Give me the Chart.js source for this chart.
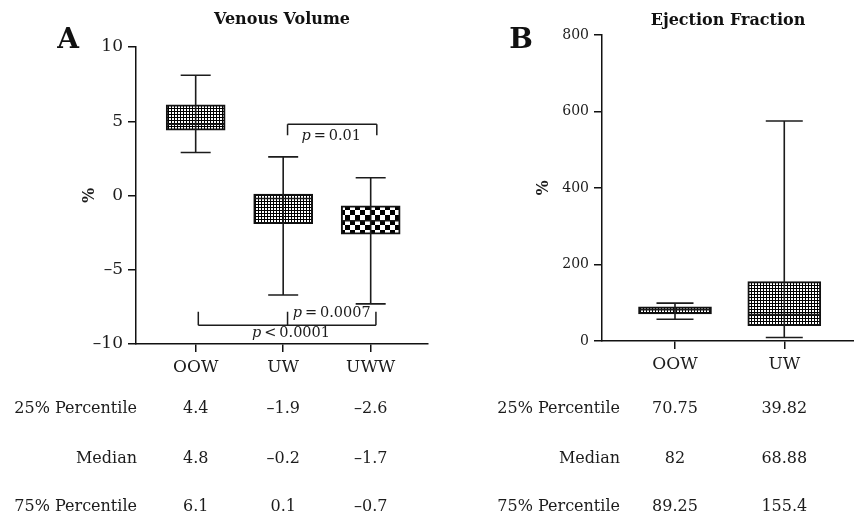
<!DOCTYPE html>
<html>
<head>
<meta charset="utf-8">
<script src="https://cdn.jsdelivr.net/npm/chart.js@4"></script>
<style>
    html, body { margin: 0; padding: 0; background: #fff; }
    #wrap { position: relative; width: 854px; height: 516px; }
    #venous-chart { position: absolute; left: 0; top: 0; }
    #ejection-chart { position: absolute; left: 430px; top: 0; }
</style>
</head>
<body>
<div id="wrap">
    <canvas id="venous-chart" width="430" height="516"></canvas>
    <canvas id="ejection-chart" width="424" height="516"></canvas>
</div>
<script>
// =========================================================
// DATA
// =========================================================

    const venousCategories = ["OOW", "UW", "UWW"];
    const venousMin = [2.9, -6.7, -7.3];
    const venousQ1 = [4.4, -1.9, -2.6];
    const venousMedian = [4.8, -0.2, -1.7];
    const venousQ3 = [6.1, 0.1, -0.7];
    const venousMax = [8.1, 2.6, 1.2];
    const venousTicks = [-10, -5, 0, 5, 10];

    const ejectionCategories = ["OOW", "UW"];
    const ejectionMin = [57, 9];
    const ejectionQ1 = [70.75, 39.82];
    const ejectionMedian = [82, 68.88];
    const ejectionQ3 = [89.25, 155.4];
    const ejectionMax = [99, 575];
    const ejectionTicks = [0, 200, 400, 600, 800];

    const tableRowLabels = ["25% Percentile", "Median", "75% Percentile"];

    // significance brackets for panel A (x in category units, y in %)
    const venousBrackets = [
        { legs: [1.05, 2.07], level: 4.8, tip: 4.05 },
        { legs: [0.03, 1.05, 2.06], level: -8.73, tip: -7.83 }
    ];
    const venousPLabels = [
        { x: 1.55, y: 4.0, relation: "=", value: "0.01" },
        { x: 1.555, y: -7.9, relation: "=", value: "0.0007" },
        { x: 1.09, y: -9.25, relation: "<", value: "0.0001" }
    ];

// =========================================================
// STYLE
// =========================================================

    const SERIF = "'DejaVu Serif', 'Liberation Serif', serif";
    const INK = "#1c1c1c";
    const TABLE_ROW_Y = [409, 459, 507];

    function formatDash(value, digits) {
        const text = digits === undefined ? String(Math.abs(value)) : Math.abs(value).toFixed(digits);
        return value < 0 ? "\u2013" + text : text;
    }

    function makeMeshPattern() {
        const tile = document.createElement("canvas");
        tile.width = 3;
        tile.height = 3;
        const c = tile.getContext("2d");
        c.fillStyle = "#000";
        c.fillRect(0, 0, 3, 3);
        c.fillStyle = "#fff";
        c.fillRect(1, 1, 2, 2);
        return c.createPattern(tile, "repeat");
    }

    function makeCheckerPattern(cell) {
        const tile = document.createElement("canvas");
        tile.width = cell * 2;
        tile.height = cell * 2;
        const c = tile.getContext("2d");
        c.fillStyle = "#fff";
        c.fillRect(0, 0, cell * 2, cell * 2);
        c.fillStyle = "#000";
        c.fillRect(0, 0, cell, cell);
        c.fillRect(cell, cell, cell, cell);
        return c.createPattern(tile, "repeat");
    }

// =========================================================
// PLUGINS
// =========================================================

    const boxWhiskerPlugin = {
        id: "boxWhisker",
        afterDatasetsDraw(chart, args, opts) {
            const ctx = chart.ctx;
            const xScale = chart.scales.x;
            const yScale = chart.scales.y;
            ctx.save();
            ctx.strokeStyle = INK;
            ctx.lineWidth = 1.6;
            opts.mins.forEach(function (minValue, i) {
                const x = xScale.getPixelForValue(i);
                const yLow = yScale.getPixelForValue(minValue);
                const yHigh = yScale.getPixelForValue(opts.maxes[i]);
                const yMid = yScale.getPixelForValue(opts.medians[i]);
                const cap = opts.capWidth / 2;
                const half = opts.boxWidth / 2 - 1;
                ctx.beginPath();
                ctx.moveTo(x, yLow);
                ctx.lineTo(x, yHigh);
                ctx.moveTo(x - cap, yLow);
                ctx.lineTo(x + cap, yLow);
                ctx.moveTo(x - cap, yHigh);
                ctx.lineTo(x + cap, yHigh);
                ctx.moveTo(x - half, yMid);
                ctx.lineTo(x + half, yMid);
                ctx.stroke();
            });
            ctx.restore();
        }
    };

    const statTablePlugin = {
        id: "statTable",
        afterDraw(chart, args, opts) {
            const ctx = chart.ctx;
            const xScale = chart.scales.x;
            ctx.save();
            ctx.font = "16px " + SERIF;
            ctx.fillStyle = INK;
            ctx.textBaseline = "middle";
            tableRowLabels.forEach(function (label, row) {
                const y = TABLE_ROW_Y[row];
                ctx.textAlign = "right";
                ctx.fillText(label, chart.chartArea.left + opts.labelOffset, y);
                ctx.textAlign = "center";
                opts.rows[row].forEach(function (value, i) {
                    ctx.fillText(opts.format(value), xScale.getPixelForValue(i), y);
                });
            });
            ctx.restore();
        }
    };

    const panelMarkPlugin = {
        id: "panelMark",
        afterDraw(chart, args, opts) {
            const ctx = chart.ctx;
            const xScale = chart.scales.x;
            const yScale = chart.scales.y;
            ctx.save();
            ctx.fillStyle = "#111";
            ctx.font = "bold 28px " + SERIF;
            ctx.textAlign = "center";
            ctx.textBaseline = "alphabetic";
            ctx.fillText(opts.letter, opts.letterX, 48);

            // brackets
            ctx.strokeStyle = INK;
            ctx.lineWidth = 1.5;
            (opts.brackets || []).forEach(function (bracket) {
                const y = yScale.getPixelForValue(bracket.level);
                const tip = yScale.getPixelForValue(bracket.tip);
                const xs = bracket.legs.map(v => xScale.getPixelForValue(v));
                ctx.beginPath();
                ctx.moveTo(Math.min(...xs), y);
                ctx.lineTo(Math.max(...xs), y);
                xs.forEach(function (x) {
                    ctx.moveTo(x, y);
                    ctx.lineTo(x, tip);
                });
                ctx.stroke();
            });

            // p labels
            ctx.fillStyle = INK;
            ctx.textBaseline = "middle";
            ctx.textAlign = "left";
            (opts.pLabels || []).forEach(function (label) {
                const rest = "\u2009" + label.relation + "\u2009" + label.value;
                ctx.font = "italic 14.5px " + SERIF;
                const pWidth = ctx.measureText("p").width;
                ctx.font = "14.5px " + SERIF;
                const restWidth = ctx.measureText(rest).width;
                const left = xScale.getPixelForValue(label.x) - (pWidth + restWidth) / 2;
                const y = yScale.getPixelForValue(label.y);
                ctx.font = "italic 14.5px " + SERIF;
                ctx.fillText("p", left, y);
                ctx.font = "14.5px " + SERIF;
                ctx.fillText(rest, left + pWidth, y);
            });
            ctx.restore();
        }
    };

// =========================================================
// CHART BUILDER
// =========================================================

    function createBoxChart(canvasId, setup) {
        const canvas = document.getElementById(canvasId);

        return new Chart(canvas, {
            type: "bar",
            data: {
                datasets: [
                    {
                        data: setup.categories.map((name, i) => ({ x: i, y: [setup.q1[i], setup.q3[i]] })),
                        backgroundColor: setup.patterns,
                        borderColor: "#111",
                        borderWidth: 2,
                        borderSkipped: false,
                        barThickness: setup.boxWidth
                    }
                ]
            },
            options: {
                responsive: false,
                animation: false,
                layout: { padding: { left: 0, right: setup.rightPad, top: 0, bottom: 0 } },
                scales: {
                    x: {
                        type: "linear",
                        offset: false,
                        min: setup.xMin,
                        max: setup.xMax,
                        afterBuildTicks: scale => { scale.ticks = setup.categories.map((name, i) => ({ value: i })); },
                        afterFit: scale => { scale.height = setup.xAxisHeight; },
                        ticks: {
                            callback: value => setup.categories[value],
                            font: { family: SERIF, size: 17 },
                            color: INK,
                            padding: 5,
                            maxRotation: 0,
                            autoSkip: false
                        },
                        grid: {
                            drawOnChartArea: false,
                            drawTicks: true,
                            tickLength: 8,
                            tickWidth: 1.5,
                            tickColor: "#111",
                            lineWidth: 1.5,
                            offset: false
                        },
                        border: { display: true, color: "#111", width: 1.5 }
                    },
                    y: {
                        min: setup.yTicks[0],
                        max: setup.yTicks[setup.yTicks.length - 1],
                        afterBuildTicks: scale => { scale.ticks = setup.yTicks.map(v => ({ value: v })); },
                        afterFit: scale => { scale.width = setup.yAxisWidth; },
                        ticks: {
                            callback: value => formatDash(value),
                            font: { family: SERIF, size: setup.yTickSize },
                            color: INK,
                            padding: 5
                        },
                        grid: {
                            drawOnChartArea: false,
                            drawTicks: true,
                            tickLength: 8,
                            tickWidth: 1.5,
                            tickColor: "#111",
                            lineWidth: 1.5
                        },
                        border: { display: true, color: "#111", width: 1.5 },
                        title: {
                            display: true,
                            text: "%",
                            font: { family: SERIF, size: 16, weight: "bold" },
                            color: INK,
                            padding: { top: setup.percentPad, bottom: 0 }
                        }
                    }
                },
                plugins: {
                    legend: { display: false },
                    tooltip: { enabled: false },
                    title: {
                        display: true,
                        text: setup.title,
                        fullSize: false,
                        color: "#111",
                        font: { family: SERIF, size: 16, weight: "bold" },
                        padding: setup.titlePad
                    },
                    boxWhisker: {
                        mins: setup.mins,
                        maxes: setup.maxes,
                        medians: setup.medians,
                        capWidth: setup.capWidth,
                        boxWidth: setup.boxWidth
                    },
                    statTable: {
                        labelOffset: setup.tableLabelOffset,
                        rows: [setup.q1, setup.medians, setup.q3],
                        format: setup.format
                    },
                    panelMark: {
                        letter: setup.letter,
                        letterX: setup.letterX,
                        brackets: setup.brackets,
                        pLabels: setup.pLabels
                    }
                }
            },
            plugins: [boxWhiskerPlugin, statTablePlugin, panelMarkPlugin]
        });
    }

// =========================================================
// PANELS
// =========================================================

    const mesh = makeMeshPattern();
    const checker = makeCheckerPattern(5);

    createBoxChart("venous-chart", {
        title: "Venous Volume",
        letter: "A",
        letterX: 68,
        categories: venousCategories,
        mins: venousMin,
        q1: venousQ1,
        medians: venousMedian,
        q3: venousQ3,
        maxes: venousMax,
        yTicks: venousTicks,
        patterns: [mesh, mesh, checker],
        format: value => formatDash(value, 1),
        brackets: venousBrackets,
        pLabels: venousPLabels,
        xMin: -0.682,
        xMax: 2.655,
        yAxisWidth: 136,
        xAxisHeight: 172,
        rightPad: 2,
        yTickSize: 17,
        percentPad: 80,
        titlePad: { top: 10, bottom: 17.8 },
        boxWidth: 59,
        capWidth: 30,
        tableLabelOffset: 1
    });

    createBoxChart("ejection-chart", {
        title: "Ejection Fraction",
        letter: "B",
        letterX: 91,
        categories: ejectionCategories,
        mins: ejectionMin,
        q1: ejectionQ1,
        medians: ejectionMedian,
        q3: ejectionQ3,
        maxes: ejectionMax,
        yTicks: ejectionTicks,
        patterns: [mesh, mesh],
        format: value => String(value),
        brackets: [],
        pLabels: [],
        xMin: -0.668,
        xMax: 1.638,
        yAxisWidth: 172,
        xAxisHeight: 175,
        rightPad: 0,
        yTickSize: 14,
        percentPad: 104,
        titlePad: { top: 11, bottom: 4.8 },
        boxWidth: 73,
        capWidth: 37,
        tableLabelOffset: 18
    });
</script>
</body>
</html>
